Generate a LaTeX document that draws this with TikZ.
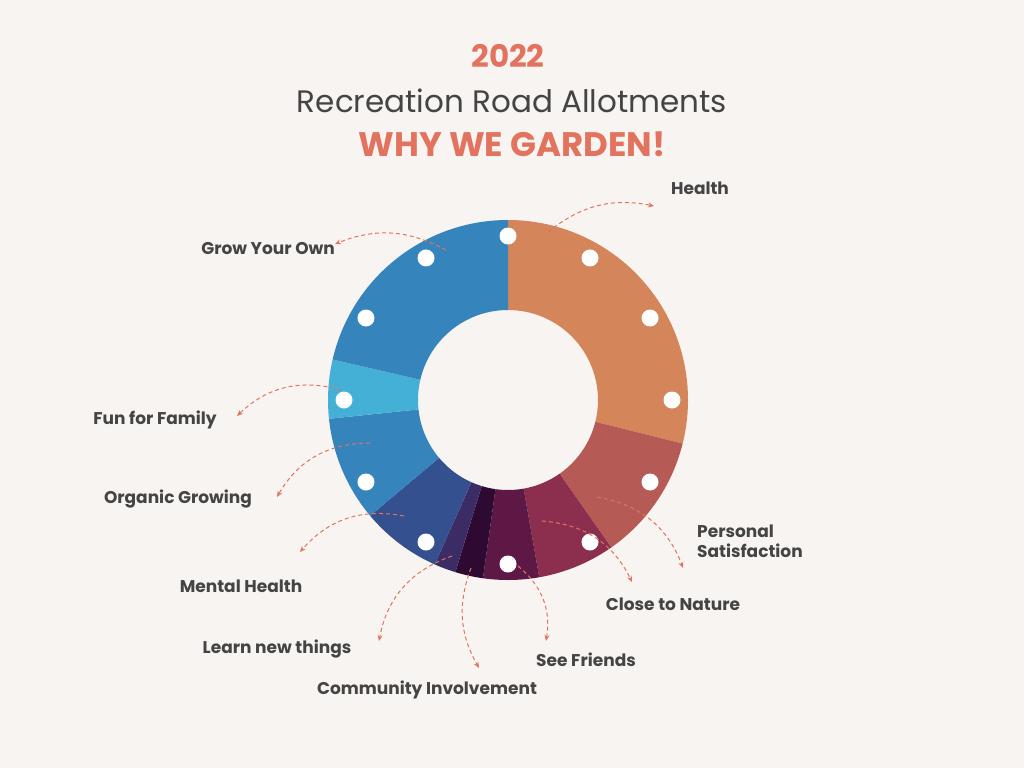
\documentclass[tikz,border=0pt]{standalone}
\usepackage{fontspec}
\setmainfont{Poppins}
\usetikzlibrary{arrows.meta}
\definecolor{bg}{HTML}{F8F4F1}
\definecolor{salmon}{HTML}{E2735E}
\definecolor{txt}{HTML}{444444}
\definecolor{cA}{HTML}{D4855A}
\definecolor{cB}{HTML}{B65A55}
\definecolor{cC}{HTML}{8C2F4F}
\definecolor{cD}{HTML}{5E1846}
\definecolor{cE}{HTML}{2E0A33}
\definecolor{cF}{HTML}{3B2C66}
\definecolor{cG}{HTML}{35508F}
\definecolor{cH}{HTML}{3585BC}
\definecolor{cI}{HTML}{44B0D6}
\tikzset{
 lbl/.style={font=\fontsize{17}{20}\selectfont\bfseries, text=txt, inner sep=0pt},
 arr/.style={draw=salmon, dashed, dash pattern=on 4pt off 3pt, line width=1pt, -{Stealth[length=6pt,width=5pt]}},
}
\begin{document}
\begin{tikzpicture}[x=1pt,y=-1pt]
\fill[bg] (0,0) rectangle (1024,768);
\useasboundingbox (0,0) rectangle (1024,768);
\node (t1) at (508,56) {\fontsize{31}{34}\selectfont\bfseries\color{salmon}2022};
\node (t2) at (512,101) {\fontsize{31}{34}\selectfont\color{txt}Recreation Road Allotments};
\node (t3) at (512,144) {\fontsize{34}{38}\selectfont\bfseries\color{salmon}WHY WE GARDEN!};
\begin{scope}[shift={(508,400)}, yscale=-1]
\foreach \a/\b/\c in {0/104/cA,104/145/cB,145/170/cC,170/188/cD,188/197/cE,197/204/cF,204/230/cG,230/264/cH,264/283/cI,283/360/cH}{
 \pgfmathsetmacro\s{90-\a}\pgfmathsetmacro\e{90-\b}
 \fill[\c] (\s:180) arc[start angle=\s,end angle=\e,radius=180] -- (\e:90) arc[start angle=\e,end angle=\s,radius=90] -- cycle;
}
\foreach \k in {0,...,11}{\fill[white] (90-30*\k:164) circle (8.5);}
\end{scope}
\node[lbl] (health) at (700,188) {Health};
\node[lbl,anchor=east] (grow) at (335,249) {Grow Your Own};
\node[lbl] (fun) at (155,420) {Fun for Family};
\node[lbl] (org) at (178,499) {Organic Growing};
\node[lbl] (mh) at (241,586) {Mental Health};
\node[lbl] (learn) at (277,649) {Learn new things};
\node[lbl] (comm) at (427,690) {Community Involvement};
\node[lbl] (see) at (586,660) {See Friends};
\node[lbl] (close) at (673,604) {Close to Nature};
\node[lbl,anchor=north west,align=left] (ps) at (697,525) {Personal\\Satisfaction};
\coordinate (s1) at (548,232); \coordinate (e1) at (654,206);
\coordinate (s2) at (446,250); \coordinate (e2) at (335,244);
\coordinate (s3) at (341,390); \coordinate (e3) at (237,416);
\coordinate (s4) at (370,443); \coordinate (e4) at (277,497);
\coordinate (s5) at (404,516); \coordinate (e5) at (300,552);
\coordinate (s6) at (452,556); \coordinate (e6) at (379,641);
\coordinate (s7) at (471,568); \coordinate (e7) at (479,668);
\coordinate (s8) at (518,566); \coordinate (e8) at (546,641);
\coordinate (s9) at (542,521); \coordinate (e9) at (632,582);
\coordinate (s10) at (597,497); \coordinate (e10) at (683,568);
\draw[arr] (s1) to[bend left=25] (e1);
\draw[arr] (s2) to[bend right=25] (e2);
\draw[arr] (s3) to[bend right=30] (e3);
\draw[arr] (s4) to[bend right=30] (e4);
\draw[arr] (s5) to[bend right=30] (e5);
\draw[arr] (s6) to[bend right=30] (e6);
\draw[arr] (s7) to[bend right=25] (e7);
\draw[arr] (s8) to[bend left=30] (e8);
\draw[arr] (s9) to[bend left=30] (e9);
\draw[arr] (s10) to[bend left=30] (e10);
\end{tikzpicture}
\end{document}
